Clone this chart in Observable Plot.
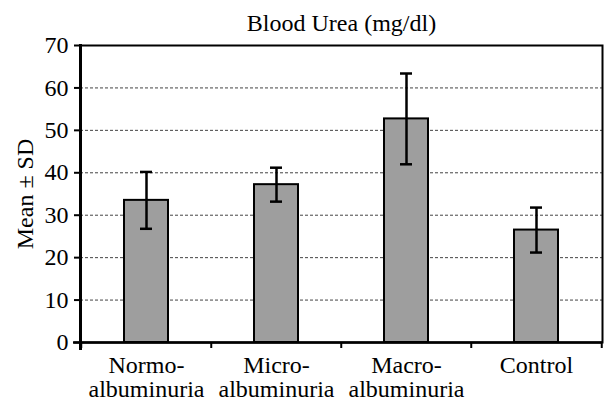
<!DOCTYPE html>
<html><head><meta charset="utf-8">
<script src="https://cdn.jsdelivr.net/npm/d3@7"></script>
<script src="https://cdn.jsdelivr.net/npm/@observablehq/plot@0.6"></script>
<style>body{margin:0;background:#fff}</style>
</head><body><div id="chart"></div>
<script>
const categories = ["Normo-\nalbuminuria", "Micro-\nalbuminuria", "Macro-\nalbuminuria", "Control"];
const means = [33.5, 37.2, 52.7, 26.5];
const sds = [6.7, 4.0, 10.7, 5.3];
const yTicks = [0, 10, 20, 30, 40, 50, 60, 70];
const gridTicks = [10, 20, 30, 40, 50, 60];
const title = "Blood Urea (mg/dl)";
const yLabel = "Mean ± SD";

const data = categories.map((c, i) => ({cat: c, mean: means[i], sd: sds[i]}));
const lastCat = [categories[categories.length - 1]];
const font = "'Liberation Serif', 'Times New Roman', serif";

const chart = Plot.plot({
  width: 604, height: 402,
  marginLeft: 80, marginTop: 45, marginRight: 2, marginBottom: 60,
  style: {fontFamily: font, fontSize: "24px", color: "#000", background: "#fff"},
  x: {domain: categories, padding: 0},
  y: {domain: [0, 70]},
  marks: [
    Plot.ruleY(gridTicks, {stroke: "#444", strokeDasharray: "3,2", strokeWidth: 1}),
    Plot.barY(data, {x: "cat", y: "mean", fill: "#9e9e9e", stroke: "#000", strokeWidth: 2, insetLeft: 43, insetRight: 43}),
    Plot.ruleX(data, {x: "cat", y1: d => d.mean - d.sd, y2: d => d.mean + d.sd, stroke: "#000", strokeWidth: 2.5}),
    Plot.tickY(data, {x: "cat", y: d => d.mean + d.sd, stroke: "#000", strokeWidth: 2.5, insetLeft: 59, insetRight: 59}),
    Plot.tickY(data, {x: "cat", y: d => d.mean - d.sd, stroke: "#000", strokeWidth: 2.5, insetLeft: 59, insetRight: 59}),
    Plot.frame({stroke: "#000", strokeWidth: 2}),
    Plot.frame({anchor: "left", stroke: "#000", strokeWidth: 3, insetBottom: -6}),
    Plot.ruleY([0], {stroke: "#000", strokeWidth: 2.5, insetLeft: -7}),
    Plot.ruleX(categories, {x: d => d, dx: -65.25, y1: 0, y2: 0, insetBottom: -6, stroke: "#000", strokeWidth: 2}),
    Plot.ruleX(lastCat, {x: d => d, dx: 65.25, y1: 0, y2: 0, insetBottom: -6, stroke: "#000", strokeWidth: 2}),
    Plot.axisY({ticks: yTicks, tickSize: 6, tickPadding: 6, label: null, fontSize: 24, fontFamily: font, strokeWidth: 2}),
    Plot.axisX({tickSize: 0, tickPadding: 13, label: null, fontSize: 24, fontFamily: font, lineHeight: 1}),
    Plot.text([title], {frameAnchor: "top", lineAnchor: "middle", textAnchor: "middle", dy: -22, fontSize: 24, fontFamily: font}),
    Plot.text([yLabel], {frameAnchor: "left", rotate: -90, textAnchor: "middle", lineAnchor: "middle", dx: -55, fontSize: 24, fontFamily: font})
  ]
});
document.getElementById("chart").appendChild(chart);
</script>
</body></html>
